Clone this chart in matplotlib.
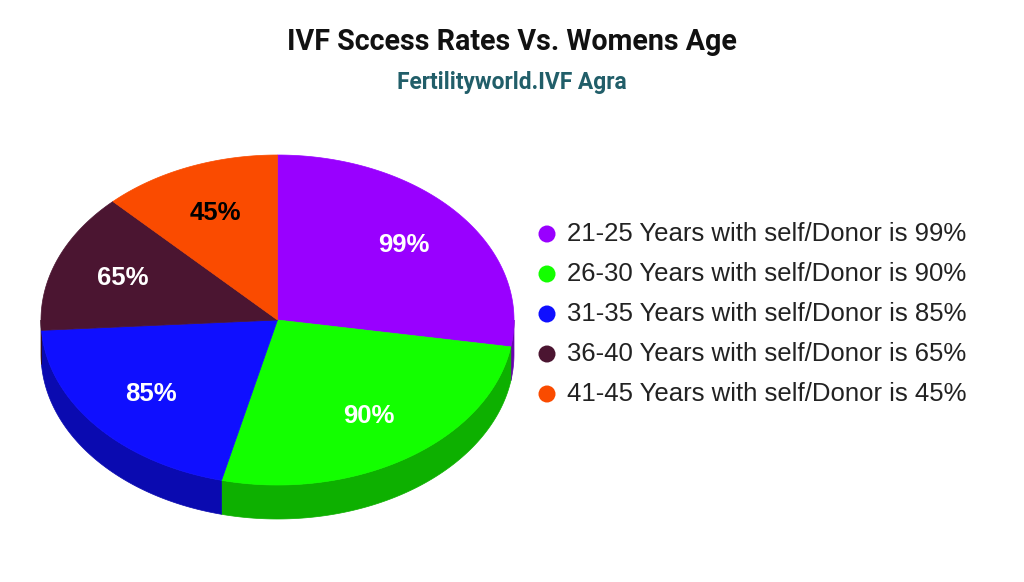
import numpy as np
import matplotlib.pyplot as plt
from matplotlib.patches import Polygon
from matplotlib.colors import to_rgb

TITLE = 'IVF Sccess Rates Vs. Womens Age'
SUBTITLE = 'Fertilityworld.IVF Agra'

age_groups = ['21-25', '26-30', '31-35', '36-40', '41-45']
success_rate = [99, 90, 85, 65, 45]
# share of the circle each slice takes in the drawn chart (%)
slice_share = [27.6, 26.2, 20.2, 13.75, 12.25]

colors = ['#9900ff', '#13ff00', '#0f0fff', '#4b1531', '#fa4b00']
label_colors = ['white', 'white', 'white', 'white', 'black']

# pie geometry (pixels)
CX, CY = 277.5, 320
RX, RY = 236.5, 165
DEPTH = 34
LABEL_R = 0.7


def darker(c, f=0.69):
    return tuple(v * f for v in to_rgb(c))


def ellipse_pts(t_deg, dy=0):
    t = np.radians(t_deg)
    return np.column_stack([CX + RX * np.cos(t), CY - RY * np.sin(t) + dy])


fig = plt.figure(figsize=(10.24, 5.82), dpi=100)
ax = fig.add_axes([0, 0, 1, 1])
ax.set_xlim(0, 1024)
ax.set_ylim(582, 0)
ax.axis('off')

# slice edges, starting at 12 o'clock and going clockwise
edges = 90 - np.concatenate([[0], np.cumsum(slice_share)]) * 3.6

# side walls (only the front half is visible)
for i in range(len(slice_share)):
    lo, hi = max(edges[i + 1], -180), min(edges[i], 0)
    if hi <= lo:
        continue
    t = np.linspace(hi, lo, 120)
    top = ellipse_pts(t)
    bottom = ellipse_pts(t, DEPTH)
    ax.add_patch(Polygon(np.vstack([top, bottom[::-1]]), closed=True,
                         facecolor=darker(colors[i]), edgecolor=darker(colors[i]),
                         linewidth=0.5))

# top faces
for i in range(len(slice_share)):
    t = np.linspace(edges[i], edges[i + 1], 200)
    pts = np.vstack([[CX, CY], ellipse_pts(t)])
    ax.add_patch(Polygon(pts, closed=True, facecolor=colors[i],
                         edgecolor=colors[i], linewidth=0.5))
    mid = np.radians((edges[i] + edges[i + 1]) / 2)
    ax.text(CX + LABEL_R * RX * np.cos(mid), CY - LABEL_R * RY * np.sin(mid),
            f'{success_rate[i]}%', ha='center', va='center', fontsize=18.5,
            fontweight='bold', color=label_colors[i], family='Liberation Sans')

# titles
fig.text(0.5, 1 - 42 / 582, TITLE, ha='center', va='center', fontsize=20.6,
         fontweight='bold', family='Roboto', color='#111111')
fig.text(0.5, 1 - 83 / 582, SUBTITLE, ha='center', va='center', fontsize=16.4,
         fontweight='bold', family='Roboto', color='#215e69')

# legend
for i, (g, v) in enumerate(zip(age_groups, success_rate)):
    y = 234 + 40 * i
    ax.scatter(547, y, s=150, color=colors[i], edgecolors='none')
    ax.text(567, y, f'{g} Years with self/Donor is {v}%', ha='left', va='center',
            fontsize=18.5, family='Liberation Sans', color='#222222')

plt.savefig('out.png', dpi=100)
